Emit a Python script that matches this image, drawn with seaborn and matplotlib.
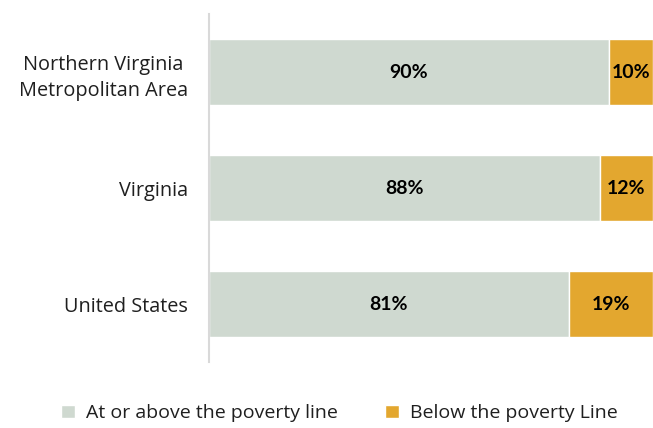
import matplotlib
matplotlib.use("Agg")
import pandas as pd
import matplotlib.pyplot as plt
import seaborn as sns

# Data
regions = ['Northern Virginia\nMetropolitan Area', 'Virginia', 'United States']
above = [90, 88, 81]
below = [10, 12, 19]

df = pd.DataFrame({'region': regions, 'above': above, 'below': below})

sns.set_theme(style="white")
plt.rcParams['font.family'] = ['Open Sans', 'DejaVu Sans']

grey = '#CFD9D0'
orange = '#E3A72F'
txt = '#1F1F1F'

fig = plt.figure(figsize=(6.53, 4.28), dpi=100)
ax = fig.add_axes([0.32, 0.154, 0.68, 0.813])

sns.barplot(data=df, y='region', x='above', color=grey, width=0.57,
            orient='h', ax=ax, saturation=1, label='At or above the poverty line',
            legend=False)
ax.barh(df['region'], df['below'], left=df['above'], color=orange, height=0.57,
        label='Below the poverty Line')
if ax.get_legend() is not None:
    ax.get_legend().remove()

for cont in ax.containers:
    ax.bar_label(cont, labels=[f'{v:.0f}%' for v in cont.datavalues],
                 label_type='center', fontsize=14, fontweight='bold', color='black',
                 family=['Lato', 'DejaVu Sans'])

ax.set_xlim(0, 100)
ax.set_ylim(2.5, -0.5)
ax.set_xlabel('')
ax.set_ylabel('')
ax.set_xticks([])
ax.tick_params(axis='y', length=0, pad=15, labelsize=14.3, labelcolor=txt)
for lab in ax.get_yticklabels():
    lab.set_horizontalalignment('right')
    lab.set_multialignment('center')
    lab.set_linespacing(1.45)
for side in ['top', 'right', 'bottom']:
    ax.spines[side].set_visible(False)
ax.spines['left'].set_color('#D9D9D9')
ax.spines['left'].set_linewidth(1.5)

handles, labels = ax.get_legend_handles_labels()
fig.legend(handles, labels, loc='lower center', bbox_to_anchor=(0.52, -0.028), ncol=2,
           frameon=False, fontsize=14, handlelength=0.7, handleheight=0.7,
           columnspacing=2.4, handletextpad=0.6, labelcolor=txt)

fig.savefig('out.png', dpi=100)
plt.close(fig)
